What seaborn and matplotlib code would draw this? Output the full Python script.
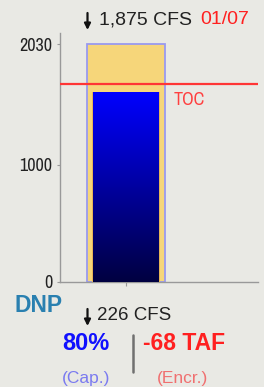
import numpy as np
import pandas as pd
import matplotlib
matplotlib.use("Agg")
import matplotlib.pyplot as plt
from matplotlib import font_manager
from matplotlib.colors import LinearSegmentedColormap
import seaborn as sns

# ---- data ----
reservoir = ["DNP"]
capacity = [2030]
storage = [1624]
toc = [1692]
inflow_cfs = 1875
outflow_cfs = 226
date_label = "01/07"
pct_capacity = 80
encroachment_taf = -68
yticks = [0, 1000, 2030]

W, H = 264, 387
BG = "#e9e9e4"

sns.set_theme(style="white")
plt.rcParams["font.family"] = ["Liberation Sans", "DejaVu Sans"]

names = sorted({f.name for f in font_manager.fontManager.ttflist})
narrow = [n for n in names if "Narrow" in n or "Condensed" in n]
if narrow:
    NARROW = [narrow[0], "DejaVu Sans"]
    nsize = 13
else:
    NARROW = ["DejaVu Sans"]
    nsize = 11

fig = plt.figure(figsize=(W / 100, H / 100), dpi=100, facecolor=BG)
ax = fig.add_axes([60 / W, 1 - 282 / H, 198 / W, 249 / H])
ax.set_facecolor(BG)

df = pd.DataFrame({"res": reservoir, "cap": capacity, "sto": storage})

sns.barplot(data=df, x="res", y="cap", ax=ax, width=0.8, color="#f6d67a",
            saturation=1, zorder=2, errorbar=None)
cap_bar = ax.patches[-1]
cap_bar.set_edgecolor("#9a9af0")
cap_bar.set_linewidth(1.3)

sns.barplot(data=df, x="res", y="sto", ax=ax, width=0.7, color="#e6b458",
            saturation=1, zorder=3, errorbar=None)

# gradient fill of storage bar, drawn inside the bar seaborn placed
p = ax.patches[-1]
p.set_linewidth(0)
x0, w, h = p.get_x(), p.get_width(), p.get_height()
inset = 0.012 * w / 0.7
cmap = LinearSegmentedColormap.from_list("g", ["#000040", "#0000ff"])
ax.imshow(np.linspace(0, 1, 256).reshape(-1, 1), cmap=cmap, origin="lower",
          extent=[x0 + inset, x0 + w - inset, 0, h - 8], aspect="auto",
          zorder=3.5, interpolation="bilinear")

# TOC line
ax.axhline(toc[0], color="#ff3535", lw=1.6, zorder=5)
ax.text(0.485, toc[0] - 70, "TOC", color="#ff4040", fontsize=nsize,
        family=NARROW, va="top", ha="left", zorder=6)

ax.set_xlim(-0.68, 1.35)
ax.set_ylim(0, 2126)
ax.set_yticks(yticks)
ax.set_yticklabels([str(v) for v in yticks], family=NARROW,
                   fontsize=nsize, color="#222222")
ax.set_xticks([0])
ax.set_xticklabels([""])
ax.set_xlabel("")
ax.set_ylabel("")
for s in ["top", "right"]:
    ax.spines[s].set_visible(False)
for s in ["left", "bottom"]:
    ax.spines[s].set_color("#999999")
    ax.spines[s].set_linewidth(1.0)
ax.tick_params(axis="y", length=2.5, width=0.8, color="#999999", pad=3, left=True)
ax.tick_params(axis="x", length=3, width=0.8, color="#999999", bottom=True)


def fx(x):
    return x / W


def fy(y):
    return 1 - y / H


def down_arrow(x, y_top, y_bot):
    fig.add_artist(matplotlib.patches.FancyArrowPatch(
        (fx(x), fy(y_top)), (fx(x), fy(y_bot)), transform=fig.transFigure,
        arrowstyle="-|>", mutation_scale=9, lw=1.6, color="#111111",
        shrinkA=0, shrinkB=0))


# top: inflow and date
down_arrow(87.5, 13, 30)
fig.text(fx(99), fy(20), f"{inflow_cfs:,} CFS", fontsize=14, color="#222222",
         va="center", ha="left")
fig.text(fx(200), fy(20), date_label, fontsize=14, color="#ff2020",
         va="center", ha="left")
# bottom
fig.text(fx(14), fy(305), reservoir[0], fontsize=16.5, fontweight="bold",
         color="#2a80b0", va="center", ha="left")
down_arrow(87.5, 309, 326)
fig.text(fx(97), fy(316), f"{outflow_cfs} CFS", fontsize=13.5, color="#222222",
         va="center", ha="left")
fig.text(fx(86), fy(343), f"{pct_capacity}%", fontsize=17, fontweight="bold",
         color="#1010ff", va="center", ha="center")
fig.text(fx(86), fy(378), "(Cap.)", fontsize=12.5, color="#7a7af0",
         va="center", ha="center")
fig.text(fx(184.5), fy(343), f"{encroachment_taf} TAF", fontsize=16.5, fontweight="bold",
         color="#ff2020", va="center", ha="center")
fig.text(fx(182.5), fy(378), "(Encr.)", fontsize=12.5, color="#f07070",
         va="center", ha="center")
fig.add_artist(plt.Line2D([fx(133), fx(133)], [fy(335), fy(372)],
                          color="#707070", lw=1.8))

fig.savefig("out.png", dpi=100, facecolor=BG)
